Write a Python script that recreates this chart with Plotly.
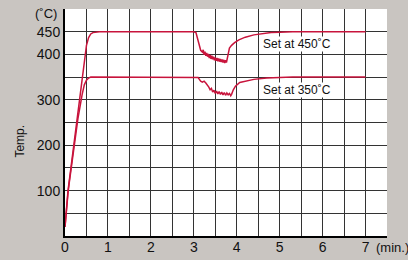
import plotly.graph_objects as go

# time (min) and temperature (°C) for the 450 °C setting
t450 = [0, 0.03, 0.07, 0.1, 0.2, 0.3, 0.4, 0.47, 0.5, 0.55, 0.6, 0.65, 0.7, 0.8, 1.0, 2.0, 3.0,
        3.05, 3.08, 3.1, 3.13, 3.16, 3.2, 3.22, 3.24, 3.26, 3.28, 3.3, 3.32, 3.34, 3.36, 3.38,
        3.4, 3.42, 3.44, 3.46, 3.48, 3.5, 3.52, 3.54, 3.56, 3.58, 3.6, 3.62, 3.64, 3.66, 3.68,
        3.7, 3.72, 3.74, 3.76, 3.78, 3.8, 3.83, 3.88, 3.95, 4.05, 4.2, 4.4, 4.6, 4.8, 5.0, 5.3, 6.0, 7.0]
v450 = [20, 60, 100, 122, 197, 272, 347, 400, 420, 437, 445, 448, 449, 450, 450, 450, 450,
        448, 436, 426, 416, 409, 405, 410, 399, 406, 397, 403, 395, 401, 392, 399,
        390, 397, 389, 395, 387, 393, 386, 392, 385, 391, 384, 390, 383, 389, 382,
        388, 381, 387, 382, 392, 405, 414, 420, 426, 432, 438, 443, 446, 448, 449, 450, 450, 450]

# time (min) and temperature (°C) for the 350 °C setting
t350 = [0, 0.03, 0.07, 0.1, 0.2, 0.3, 0.4, 0.45, 0.5, 0.55, 0.6, 0.7, 1.0, 2.0, 3.0,
        3.1, 3.13, 3.16, 3.2, 3.24, 3.28, 3.32, 3.35, 3.38, 3.41, 3.44, 3.47, 3.5, 3.53, 3.56,
        3.59, 3.62, 3.65, 3.68, 3.71, 3.74, 3.77, 3.8, 3.83, 3.86, 3.88, 3.92, 3.97, 4.07,
        4.2, 4.4, 4.7, 5.0, 5.3, 6.0, 7.0]
v350 = [20, 58, 95, 118, 190, 258, 312, 333, 343, 348, 350, 350, 350, 350, 350,
        349, 345, 341, 339, 341, 337, 333, 328, 322, 325, 317, 321, 314, 319, 313,
        318, 312, 317, 311, 316, 310, 315, 311, 314, 309, 312, 322, 330, 338,
        341, 345, 348, 349, 350, 350, 350]

x_tickvals = [i * 0.5 for i in range(15)]
x_ticktext = [str(int(v)) if v == int(v) else "" for v in x_tickvals]
y_tickvals = list(range(0, 501, 50))
y_labels = {100: "100", 200: "200", 300: "300", 400: "400", 450: "450"}
y_ticktext = [y_labels.get(v, "") for v in y_tickvals]

red = "#c8143c"
font = "Liberation Sans, Arial, Helvetica, sans-serif"

fig = go.Figure()
fig.add_trace(go.Scatter(x=t450, y=v450, mode="lines", line=dict(color=red, width=1.5)))
fig.add_trace(go.Scatter(x=t350, y=v350, mode="lines", line=dict(color=red, width=1.5)))

fig.update_layout(
    width=408, height=260,
    margin=dict(l=65, r=21, t=9, b=24),
    paper_bgcolor="#c9c5c1", plot_bgcolor="#ffffff",
    showlegend=False,
    font=dict(family=font, size=14, color="#111111"),
    xaxis=dict(range=[0, 7.5], tickvals=x_tickvals, ticktext=x_ticktext,
               showgrid=True, gridcolor="#333333", gridwidth=1,
               showline=True, linecolor="#000000", linewidth=2, automargin=False,
               zeroline=False, ticks="", tickfont=dict(size=14), ticklabelstandoff=-3),
    yaxis=dict(range=[0, 500], tickvals=y_tickvals, ticktext=y_ticktext,
               showgrid=True, gridcolor="#333333", gridwidth=1,
               showline=True, linecolor="#000000", linewidth=2, automargin=False,
               zeroline=False, ticks="", tickfont=dict(size=14)),
    annotations=[
        dict(text="Set at 450˚C", x=4.58, y=422, xref="x", yref="y", xanchor="left",
             yanchor="middle", showarrow=False, font=dict(size=12), bgcolor="#ffffff",
             borderpad=0),
        dict(text="Set at 350˚C", x=4.58, y=322, xref="x", yref="y", xanchor="left",
             yanchor="middle", showarrow=False, font=dict(size=12), bgcolor="#ffffff",
             borderpad=0),
        dict(text="Temp.", x=-0.14, y=0.42, xref="paper", yref="paper", textangle=-90,
             xanchor="center", yanchor="middle", showarrow=False, font=dict(size=12)),
        dict(text="(˚C)", x=-0.019, y=0.98, xref="paper", yref="paper", xanchor="right",
             yanchor="middle", showarrow=False, font=dict(size=13)),
        dict(text="(min.)", x=0.959, y=-0.05, xref="paper", yref="paper", xanchor="left",
             yanchor="middle", showarrow=False, font=dict(size=13)),
    ],
)

fig.write_html("out.html", config={"displayModeBar": False},
               post_script="document.body.style.margin='0';document.body.style.background='#c9c5c1';")
